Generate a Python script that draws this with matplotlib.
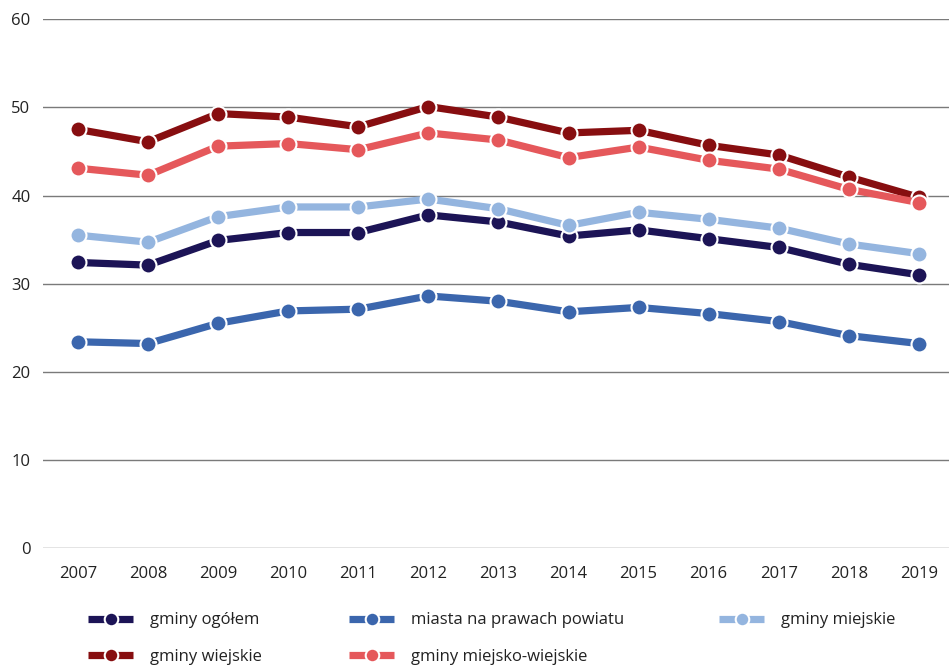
import matplotlib
matplotlib.use('Agg')
import matplotlib.pyplot as plt

plt.rcParams['font.family'] = ['Open Sans', 'DejaVu Sans']

lata = [2007, 2008, 2009, 2010, 2011, 2012, 2013, 2014, 2015, 2016, 2017, 2018, 2019]

gminy_ogolem = [32.4, 32.1, 34.9, 35.8, 35.8, 37.8, 37.0, 35.4, 36.1, 35.1, 34.1, 32.2, 31.0]
miasta_npp = [23.4, 23.2, 25.5, 26.9, 27.1, 28.6, 28.0, 26.8, 27.3, 26.6, 25.7, 24.1, 23.2]
gminy_miejskie = [35.5, 34.7, 37.6, 38.7, 38.7, 39.6, 38.5, 36.6, 38.1, 37.3, 36.3, 34.5, 33.4]
gminy_wiejskie = [47.5, 46.1, 49.3, 48.9, 47.8, 50.1, 48.9, 47.1, 47.4, 45.7, 44.6, 42.1, 39.8]
gminy_mw = [43.1, 42.3, 45.6, 45.9, 45.2, 47.1, 46.3, 44.3, 45.5, 44.0, 43.0, 40.7, 39.2]

serie = [
    ('gminy ogółem', gminy_ogolem, '#1c1456'),
    ('miasta na prawach powiatu', miasta_npp, '#3b66ad'),
    ('gminy miejskie', gminy_miejskie, '#94b5df'),
    ('gminy wiejskie', gminy_wiejskie, '#870e10'),
    ('gminy miejsko-wiejskie', gminy_mw, '#e5585b'),
]

fig = plt.figure(figsize=(9.49, 6.65), dpi=100)
ax = fig.add_axes([0.0453, 0.176, 0.9547, 0.795])

linie = []
for nazwa, wart, kol in serie:
    l, = ax.plot(lata, wart, color=kol, lw=5.2, marker='o', markersize=11.5,
                 markeredgecolor='white', markeredgewidth=1.5, label=nazwa,
                 solid_capstyle='butt', zorder=3)
    linie.append(l)

ax.set_xlim(2006.5, 2019.43)
ax.set_ylim(0, 60)
ax.set_yticks(range(0, 61, 10))
ax.set_xticks(lata)
ax.grid(axis='y', color='#7a7a7a', lw=1)
ax.set_axisbelow(True)
for s in ax.spines.values():
    s.set_visible(False)
ax.tick_params(length=0, labelsize=12, colors='#222222', pad=9)
ax.tick_params(axis='x', pad=13)

# legenda w trzech kolumnach
kolumny = [([linie[0], linie[3]], 0.093), ([linie[1], linie[4]], 0.368), ([linie[2]], 0.758)]
for hs, x in kolumny:
    leg = fig.legend(handles=hs, loc='upper left', bbox_to_anchor=(x, 0.079),
                     frameon=False, fontsize=12, handlelength=2.7, handletextpad=1.0,
                     labelspacing=1.25, borderaxespad=0, borderpad=0, markerscale=0.85)
    for t in leg.get_texts():
        t.set_color('#222222')

fig.savefig('out.png', dpi=100)
